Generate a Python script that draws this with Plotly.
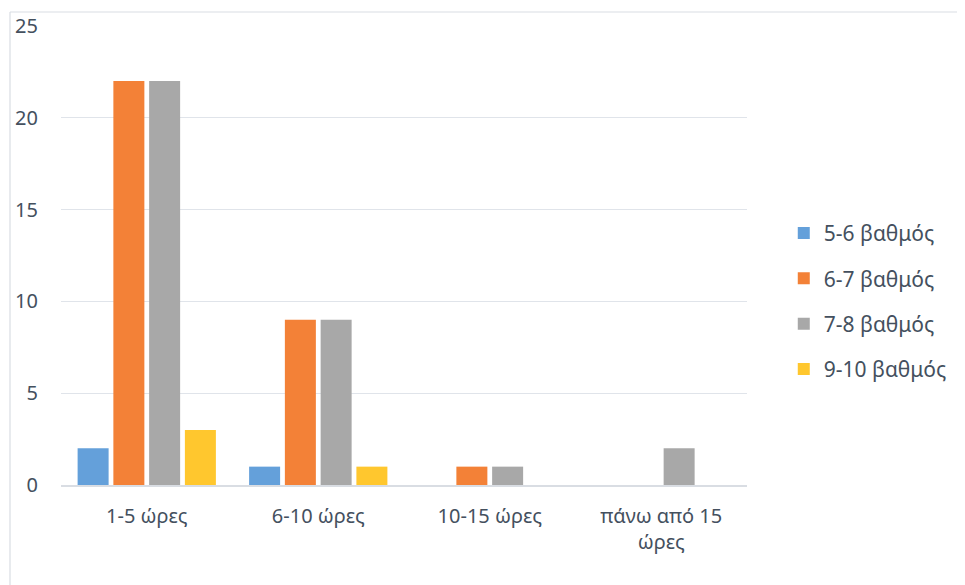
import plotly.graph_objects as go

categories = ["1-5 ώρες", "6-10 ώρες", "10-15 ώρες", "πάνω από 15<br>ώρες"]
series_names = ["5-6 βαθμός", "6-7 βαθμός", "7-8 βαθμός", "9-10 βαθμός"]
s_5_6 = [2, 1, 0, 0]
s_6_7 = [22, 9, 1, 0]
s_7_8 = [22, 9, 1, 2]
s_9_10 = [3, 1, 0, 0]
y_ticks = [0, 5, 10, 15, 20, 25]

colors = ["#64A0DA", "#F38137", "#A8A8A8", "#FFC72E"]
text_color = "#44505E"
font_family = "Noto Sans, Open Sans, sans-serif"

fig = go.Figure()
for i, (name, vals, col) in enumerate(zip(series_names, [s_5_6, s_6_7, s_7_8, s_9_10], colors)):
    fig.add_trace(go.Bar(x=categories, y=vals, name=name, legendgroup=f"g{i}",
                         marker=dict(color=col, line=dict(width=0))))

# page has an 8px body margin, so the figure is 957x577 and offset by 8px
W, H = 957, 577
L, R, T, B = 53, 218, 18, 100
pw, ph = W - L - R, H - T - B
x_left = (2 - L) / pw
y_top = (H - B - 4) / ph
fig.add_shape(type="line", xref="paper", yref="paper", x0=x_left, x1=(W - L) / pw + 0.02,
              y0=y_top, y1=y_top, line=dict(color="#D9DDE3", width=1.2))
fig.add_shape(type="line", xref="paper", yref="paper", x0=x_left, x1=x_left,
              y0=y_top, y1=-B / ph - 0.02, line=dict(color="#D9DDE3", width=1.2))

fig.update_layout(
    width=W, height=H,
    margin=dict(l=L, r=R, t=T, b=B, autoexpand=False),
    paper_bgcolor="white", plot_bgcolor="white",
    barmode="group", bargap=0.166, bargroupgap=0.133,
    font=dict(family=font_family, size=20, color=text_color),
    legend=dict(x=1.0536, y=0.40, xanchor="left", yanchor="middle",
                font=dict(size=21, color=text_color), tracegroupgap=15,
                traceorder="grouped", bgcolor="rgba(0,0,0,0)"),
    xaxis=dict(showgrid=False, showline=True, linecolor="#D9DDE3", linewidth=1.5,
               automargin=False,
               ticks="", ticklabelstandoff=12, tickfont=dict(size=20, color=text_color)),
    yaxis=dict(range=[0, 25], tickvals=y_ticks, showgrid=True, gridcolor="#E0E4EA",
               gridwidth=1.2, zeroline=False, showline=False, ticks="", automargin=False,
               ticklabelstandoff=22, tickfont=dict(size=20, color=text_color)),
)

fig.write_html("out.html")
